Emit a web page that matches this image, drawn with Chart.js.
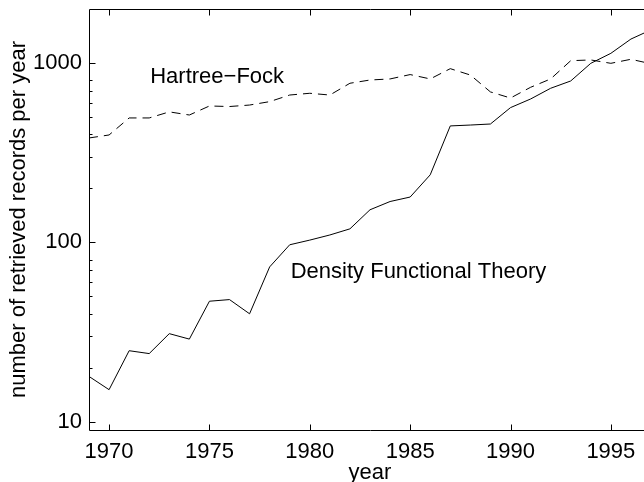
<!DOCTYPE html>
<html><head><meta charset="utf-8">
<script src="https://cdn.jsdelivr.net/npm/chart.js@4/dist/chart.umd.min.js"></script>
<style>
html,body{margin:0;padding:0;background:#fff;overflow:hidden;}
#wrap{width:644px;height:482px;overflow:hidden;position:relative;background:#fff;}
canvas{display:block;}
</style></head><body>
<div id="wrap"><canvas id="c" width="660" height="482" style="width:660px;height:482px"></canvas></div>
<script>
// ---- data ----
const years = [1969,1970,1971,1972,1973,1974,1975,1976,1977,1978,1979,1980,1981,1982,1983,1984,1985,1986,1987,1988,1989,1990,1991,1992,1993,1994,1995,1996,1997];
const hartreeFock = [382,397,494,494,534,513,576,572,583,609,663,678,663,771,804,815,862,815,930,857,690,638,732,815,1030,1040,996,1049,990];
const densityFunctional = [17.9,15.1,24.9,24.0,31.0,28.9,47,48,40,73,97,103,110,119,152,169,179,238,446,451,457,564,630,723,794,996,1132,1360,1530];
const xTickValues = [1970,1975,1980,1985,1990,1995];
const yTickValues = [10,100,1000];
const yMinorValues = [20,30,40,50,60,70,80,200,300,400,500,600,700,800];
const seriesLabels = ['Hartree\u2212Fock','Density Functional Theory'];
const xTitle = 'year';
const yTitle = 'number of retrieved records per year';

const FONT = {family:"'Liberation Sans', Arial, Helvetica, sans-serif", size:22};
const FONT_CSS = "22px 'Liberation Sans', Arial, Helvetica, sans-serif";

const annotations = [
  {text: seriesLabels[0], x: 1972.05, y: 770},
  {text: seriesLabels[1], x: 1979.05, y: 63.3}
];

const framePlugin = {
  id:'frame',
  afterDatasetsDraw(chart){
    const {ctx, chartArea:a, scales:{x, y}} = chart;
    ctx.save();
    ctx.strokeStyle = '#000';
    ctx.lineWidth = 1;
    ctx.setLineDash([]);
    ctx.beginPath();
    ctx.rect(a.left + 0.5, a.top + 0.5, a.right - a.left, a.bottom - a.top);
    ctx.stroke();
    ctx.beginPath();
    xTickValues.forEach(v => {
      const px = Math.round(x.getPixelForValue(v)) + 0.5;
      ctx.moveTo(px, a.bottom + 0.5); ctx.lineTo(px, a.bottom - 5.5);
      ctx.moveTo(px, a.top + 0.5); ctx.lineTo(px, a.top + 6.5);
    });
    yTickValues.forEach(v => {
      const py = Math.round(y.getPixelForValue(v)) + 0.5;
      ctx.moveTo(a.left + 0.5, py); ctx.lineTo(a.left + 6.5, py);
      ctx.moveTo(a.right + 0.5, py); ctx.lineTo(a.right - 5.5, py);
    });
    yMinorValues.forEach(v => {
      const py = Math.round(y.getPixelForValue(v)) + 0.5;
      ctx.moveTo(a.left + 0.5, py); ctx.lineTo(a.left + 3.5, py);
      ctx.moveTo(a.right + 0.5, py); ctx.lineTo(a.right - 2.5, py);
    });
    ctx.stroke();
    ctx.fillStyle = '#000';
    ctx.font = FONT_CSS;
    ctx.textAlign = 'left';
    ctx.textBaseline = 'alphabetic';
    annotations.forEach(t => {
      ctx.fillText(t.text, x.getPixelForValue(t.x), y.getPixelForValue(t.y));
    });
    ctx.restore();
  }
};

const toPoints = arr => years.map((yr, i) => ({x: yr, y: arr[i]}));

new Chart(document.getElementById('c'), {
  type: 'line',
  data: {
    datasets: [
      {label: seriesLabels[0], data: toPoints(hartreeFock), borderColor:'#000', borderWidth:1, borderDash:[9,6], pointRadius:0, tension:0, fill:false},
      {label: seriesLabels[1], data: toPoints(densityFunctional), borderColor:'#000', borderWidth:1, pointRadius:0, tension:0, fill:false}
    ]
  },
  options: {
    responsive:false, animation:false, devicePixelRatio:1,
    layout:{padding:{left:0, right:9, top:9, bottom:0}},
    plugins:{legend:{display:false}, tooltip:{enabled:false}},
    scales:{
      x:{
        type:'linear', min:1969, max:1997,
        afterBuildTicks: s => { s.ticks = xTickValues.map(v => ({value:v})); },
        afterFit: s => { s.height = 52; s.paddingLeft = 0; s.paddingRight = 0; },
        ticks:{font:FONT, color:'#000', padding:9, maxRotation:0, autoSkip:false, callback: v => String(v)},
        grid:{display:false, drawTicks:false},
        border:{display:false},
        title:{display:true, text:xTitle, font:FONT, color:'#000', padding:{top:0, bottom:-4}}
      },
      y:{
        type:'logarithmic', min:9, max:2000,
        afterBuildTicks: s => { s.ticks = yTickValues.map(v => ({value:v})); },
        afterFit: s => { s.width = 89; s.paddingTop = 0; s.paddingBottom = 0; },
        ticks:{font:FONT, color:'#000', padding:7, autoSkip:false, callback: v => String(v)},
        grid:{display:false, drawTicks:false},
        border:{display:false},
        title:{display:true, text:yTitle, font:FONT, color:'#000', padding:{top:6, bottom:0}}
      }
    }
  },
  plugins:[framePlugin]
});
</script>
</body></html>
